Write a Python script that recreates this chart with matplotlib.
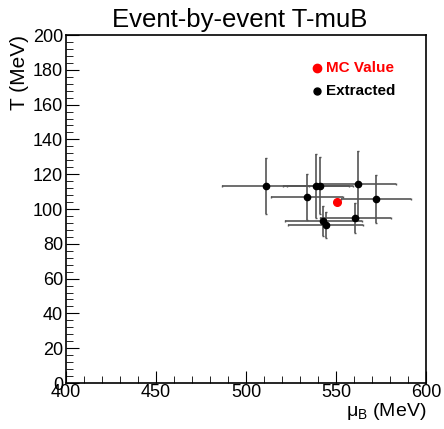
import matplotlib
matplotlib.use('Agg')
import matplotlib.pyplot as plt
from matplotlib.ticker import MultipleLocator

plt.rcParams['font.family'] = ['Liberation Sans', 'DejaVu Sans']

# extracted event-by-event values
mu_b = [510.9, 534.1, 538.9, 541.1, 562.2, 572.2, 560.7, 543.0, 544.3]
temp = [113.4, 106.9, 113.4, 113.4, 114.1, 105.7, 95.0, 93.1, 90.8]
mu_err = [24.0, 20.0, 18.5, 18.5, 21.0, 19.5, 19.7, 21.3, 20.8]
temp_err = [16.0, 13.0, 18.5, 16.3, 19.0, 13.6, 8.6, 8.5, 7.5]

# MC truth
mc_mu = [550.7]
mc_temp = [103.8]

fig = plt.figure(figsize=(4.44, 4.29), dpi=100)
ax = fig.add_axes([0.1486, 0.1072, 0.8108, 0.8112])

ax.errorbar(mu_b, temp, xerr=mu_err, yerr=temp_err, fmt='o', color='black',
            ecolor='#555555', elinewidth=1.2, markersize=4.5, capsize=0.8)
ax.plot(mc_mu, mc_temp, 'o', color='red', markersize=5.5)

ax.set_xlim(400, 600)
ax.set_ylim(0, 200)
ax.xaxis.set_major_locator(MultipleLocator(50))
ax.xaxis.set_minor_locator(MultipleLocator(10))
ax.yaxis.set_major_locator(MultipleLocator(20))
ax.yaxis.set_minor_locator(MultipleLocator(4))
ax.tick_params(which='both', direction='in', top=False, right=False, labelsize=13)
ax.tick_params(axis='x', pad=1)
ax.tick_params(axis='y', pad=2)
ax.tick_params(which='major', length=9)
ax.tick_params(which='minor', length=5)
for s in ax.spines.values():
    s.set_linewidth(1.2)

fig.text(0.54, 0.953, 'Event-by-event T-muB', ha='center', va='center', fontsize=18.5)
ax.set_xlabel(r'$\mathregular{\mu_B}$ (MeV)', fontsize=14, loc='right', labelpad=0)
ax.set_ylabel('T (MeV)', fontsize=15, loc='top', labelpad=3)

# legend
ax.plot([0.697], [0.905], 'o', color='red', markersize=6, transform=ax.transAxes)
ax.text(0.722, 0.905, 'MC Value', color='red', fontweight='bold', fontsize=11,
        va='center', transform=ax.transAxes)
ax.plot([0.697], [0.839], 'o', color='black', markersize=5, transform=ax.transAxes)
ax.text(0.722, 0.839, 'Extracted', color='black', fontweight='bold', fontsize=11,
        va='center', transform=ax.transAxes)

fig.savefig('out.png', dpi=100)
